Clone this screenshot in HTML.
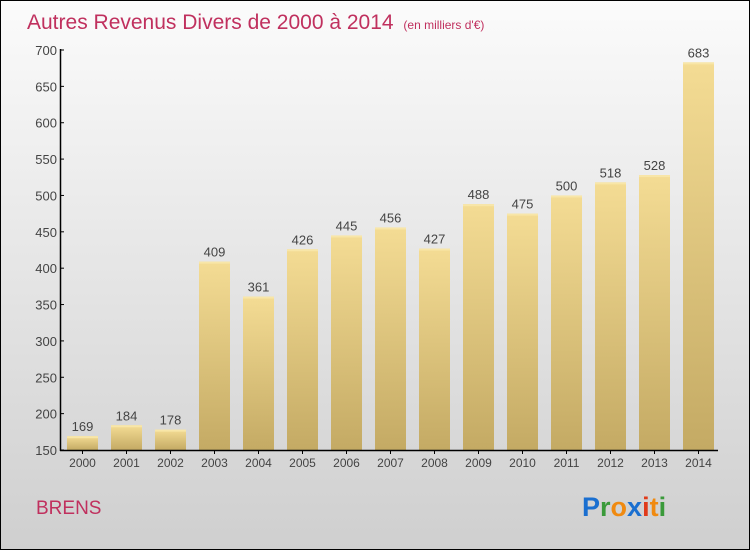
<!DOCTYPE html>
<html><head><meta charset="utf-8"><style>
body{margin:0}
svg{display:block;font-family:"Liberation Sans",sans-serif}
</style></head><body>
<svg id="c" width="750" height="550">
<defs>
<linearGradient id="bg" x1="0" y1="0" x2="0" y2="1"><stop offset="0" stop-color="#fbfbfb"/><stop offset="1" stop-color="#cfcfcf"/></linearGradient>
<linearGradient id="bar" x1="0" y1="0" x2="0" y2="1"><stop offset="0" stop-color="#f4dc94"/><stop offset="1" stop-color="#c4aa64"/></linearGradient>
</defs>
<rect x="0.5" y="0.5" width="749" height="549" fill="url(#bg)" stroke="#000"/>
<text x="27" y="29" font-size="21" fill="#c0305e">Autres Revenus Divers de 2000 à 2014 <tspan font-size="12" dx="4">(en milliers d'€)</tspan></text>
<text x="36" y="514" font-size="19" fill="#c0305e">BRENS</text>
<text x="582" y="516" font-size="27" font-weight="bold"><tspan fill="#1a6fd0">P</tspan><tspan fill="#3a9a3a">r</tspan><tspan fill="#f08a10">o</tspan><tspan fill="#1a6fd0">x</tspan><tspan fill="#e03a1a">i</tspan><tspan fill="#f08a10">t</tspan><tspan fill="#3a9a3a">i</tspan></text>
<g id="plot"></g>
</svg>
<script>
const years=["2000","2001","2002","2003","2004","2005","2006","2007","2008","2009","2010","2011","2012","2013","2014"];
const values=[169,184,178,409,361,426,445,456,427,488,475,500,518,528,683];
const yTicks=[150,200,250,300,350,400,450,500,550,600,650,700];
const NS="http://www.w3.org/2000/svg";
const g=document.getElementById('plot');
const y=v=>450-(v-150)*(400/550);
const x=i=>82.5+i*44;
function el(t,a,txt){const e=document.createElementNS(NS,t);for(const k in a)e.setAttribute(k,a[k]);if(txt!=null)e.textContent=txt;g.appendChild(e);return e;}
yTicks.forEach(v=>{
 const t=el('line',{x1:60,x2:64,y1:y(v),y2:y(v),stroke:'#000'});
 
 
 const l=el('text',{x:57,y:y(v)+5,'text-anchor':'end','font-size':13,fill:'#444'},v);
 
 
});
values.forEach((v,i)=>{
 const b=el('rect',{x:x(i)-15.5,y:y(v),width:31,height:450-y(v),fill:'url(#bar)'});
 
 
 const hl=el('rect',{x:x(i)-15.5,y:y(v),width:31,height:2,fill:'#f8e6a8'});
 
 
 const vl=el('text',{x:x(i),y:y(v)-5,'text-anchor':'middle','font-size':13,fill:'#444'},v);
 
 
 const tk=el('line',{x1:x(i),x2:x(i),y1:450,y2:454,stroke:'#000'});
 
 
 const xl=el('text',{x:x(i),y:467,'text-anchor':'middle','font-size':12,fill:'#444'},years[i]);
 
 
});
const ya=el('line',{x1:60.5,x2:60.5,y1:y(700)-1,y2:451,stroke:'#000','stroke-width':1.5});


const xa=el('line',{x1:60,x2:718,y1:450.5,y2:450.5,stroke:'#000','stroke-width':1.5});


</script>
</body></html>
